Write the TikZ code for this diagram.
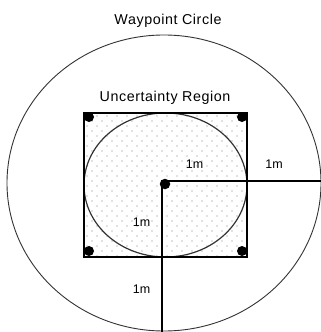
\documentclass[tikz,border=0pt]{standalone}
\usepackage{fontspec}
\setmainfont{Liberation Sans}
\newfontfamily\titlefont[LetterSpace=4]{Liberation Sans}
\begin{document}
\begin{tikzpicture}[x=1pt,y=-1pt,
  outerc/.style={draw=black!80,line width=0.9pt},
  innerc/.style={draw=black!80,line width=1.2pt},
  boxline/.style={draw=black,line width=1.3pt},
  ray/.style={draw=black,line width=1.3pt},
  bigdot/.style={circle,fill=black,inner sep=0pt,minimum size=10.5pt},
  cornerdot/.style={circle,fill=black,inner sep=0pt,minimum size=10pt},
  stipple/.style={fill=black!50},
  title/.style={font=\titlefont\fontsize{14.3}{16}\selectfont,anchor=base,inner sep=0pt},
  dist/.style={font=\fontsize{12.5}{14}\selectfont,anchor=base,inner sep=0pt}]
\useasboundingbox (0,0) rectangle (321,332);
\fill[white] (0,0) rectangle (321,332);
% stippled square
\begin{scope}
  \clip (84,113) rectangle (247,257);
  \foreach \r in {0,...,28}
    \foreach \c in {0,...,16}
      \fill[stipple] ({87+10*\c+5*mod(\r,2)},{116+5*\r}) circle (0.6);
\end{scope}
% outer waypoint circle
\draw[outerc] (164,183) ellipse [x radius=157, y radius=148];
% uncertainty region
\draw[innerc] (165.5,185) ellipse [x radius=81.5, y radius=72];
\draw[boxline] (84,113) rectangle (247,257);
% radii
\coordinate (hr) at (321,181);
\coordinate (vb) at (162,332);
\draw[ray] (vb) |- (hr);
% dots
\node[bigdot] (c) at (165,184) {};
\node[cornerdot] (tl) at (89,117) {};
\node[cornerdot] (tr) at (242,117) {};
\node[cornerdot] (bl) at (89,251) {};
\node[cornerdot] (br) at (242,251) {};
% labels
\node[title] (wp) at (168,24.3) {Waypoint Circle};
\node[title] (ur) at (165,101.7) {Uncertainty Region};
\node[dist] (d1) at (194.5,168.3) {1m};
\node[dist] (d2) at (274,168.3) {1m};
\node[dist] (d3) at (141.5,226.7) {1m};
\node[dist] (d4) at (141.5,293.3) {1m};
\end{tikzpicture}
\end{document}
